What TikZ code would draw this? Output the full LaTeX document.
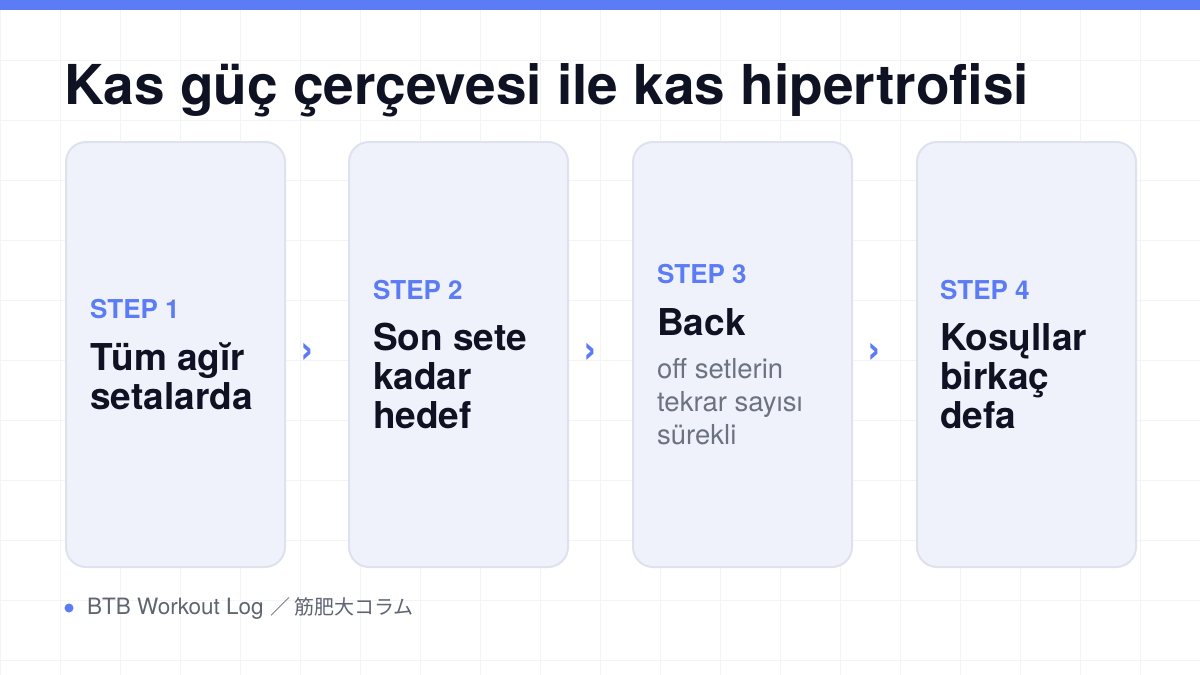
\documentclass[tikz,border=0pt]{standalone}
\usepackage{fontspec}
\setmainfont{TeX Gyre Heros}
\newfontfamily\jpfont{Noto Sans CJK JP}

\definecolor{accent}{HTML}{5B7CF5}
\definecolor{ink}{HTML}{0F1222}
\definecolor{cardfill}{HTML}{F0F2FB}
\definecolor{cardline}{HTML}{DEE1EE}
\definecolor{muted}{HTML}{6B7280}
\definecolor{footgray}{HTML}{5F6472}
\definecolor{gridc}{HTML}{F3F4F6}

\def\cardw{219}
\def\cardh{425}

\tikzset{
  card/.style={draw=cardline, line width=2pt, fill=cardfill, rounded corners=20pt,
    minimum width=\cardw pt, minimum height=\cardh pt, anchor=north west, inner sep=0pt},
  steplabel/.style={anchor=base west, inner sep=0pt, text=accent,
    font=\bfseries\fontsize{26}{30}\selectfont},
  steptext/.style={anchor=north west, inner sep=0pt, text=ink, align=left,
    font=\bfseries\fontsize{37}{39}\selectfont},
  subtext/.style={anchor=north west, inner sep=0pt, text=muted, align=left,
    font=\fontsize{27.5}{33}\selectfont},
  chevron/.style={inner sep=0pt, text=accent, font=\bfseries\fontsize{42}{44}\selectfont},
}

\begin{document}
\begin{tikzpicture}[x=1pt, y=-1pt]
      \useasboundingbox (0,0) rectangle (1200,675);
      \fill[white] (0,0) rectangle (1200,675);
      \draw[gridc, line width=1pt] (0,0) grid[step=60pt] (1200,675);
      \fill[accent] (0,0) rectangle (1200,10);

      \node[anchor=base west, inner sep=0pt, text=ink, font=\bfseries\fontsize{55}{60}\selectfont]
        (title) at (64,104) {Kas güç çerçevesi ile kas hipertrofisi};

      \node[card] (card1) at (65,141) {};
      \node[card] (card2) at (348,141) {};
      \node[card] (card3) at (632,141) {};
      \node[card] (card4) at (916,141) {};

      \node[steplabel] (step1) at (90,318) {STEP 1};
      \node[steptext] (text1) at (90,343) {Tüm agĭr\\setalarda};

      \node[steplabel] (step2) at (373,299) {STEP 2};
      \node[steptext] (text2) at (373,323) {Son sete\\kadar\\hedef};

      \node[steplabel] (step3) at (657,283) {STEP 3};
      \node[steptext] (text3) at (657,308) {Back};
      \node[subtext] (sub3) at (657,358) {off setlerin\\tekrar sayısı\\sürekli};

      \node[steplabel] (step4) at (940,299) {STEP 4};
      \node[steptext] (text4) at (940,323) {Kosųllar\\birkaç\\defa};

      \node[chevron] (arr1) at (307,353) {›};
      \node[chevron] (arr2) at (590,353) {›};
      \node[chevron] (arr3) at (874,353) {›};

      \fill[accent] (69,608) circle (4.5);
      \node[anchor=west, inner sep=0pt, text=footgray, font=\fontsize{22.5}{26}\selectfont]
        (footer) at (87,608) {BTB Workout Log {\jpfont\fontsize{20}{24}\selectfont ／ 筋肥大コラム}};
\end{tikzpicture}
\end{document}
